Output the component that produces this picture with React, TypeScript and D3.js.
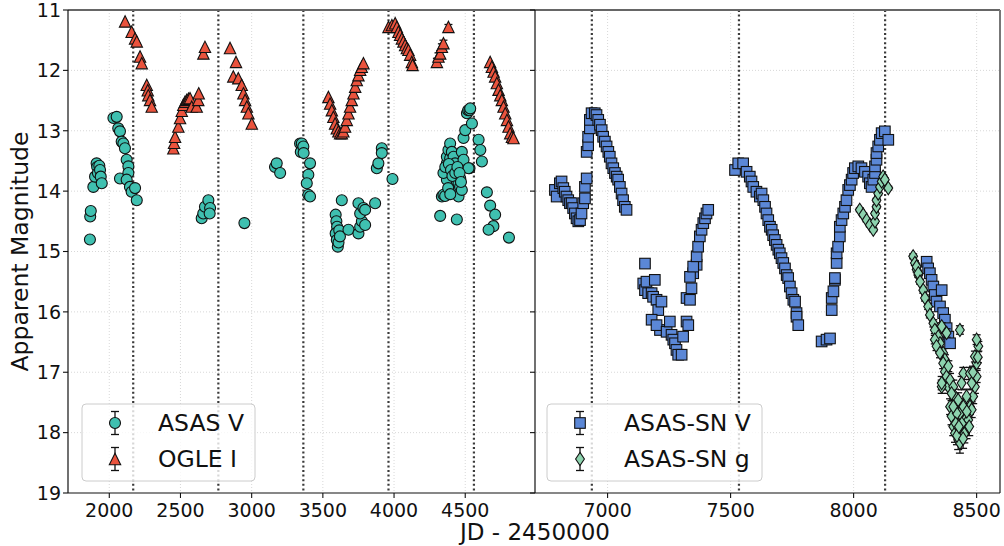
import React from "react";
import * as d3 from "d3";

// ---------- data: [JD - 2450000, magnitude, (optional error)] ----------
const asasV: number[][] = [
  [1864, 14.8], [1866, 14.42], [1870, 14.33], [1888, 13.93], [1900, 13.76], [1911, 13.54],
  [1915, 13.6], [1920, 13.7], [1930, 13.58], [1935, 13.65], [1940, 13.76], [1947, 13.87],
  [2029, 12.79], [2052, 12.77], [2063, 12.96], [2075, 13.01], [2075, 13.79], [2087, 13.18],
  [2099, 13.21], [2110, 13.29], [2122, 13.48], [2134, 13.59], [2134, 13.7], [2122, 13.81],
  [2145, 13.93], [2157, 14.01], [2181, 13.95], [2193, 14.15],
  [2649, 14.45], [2660, 14.37], [2672, 14.26], [2696, 14.15], [2708, 14.28], [2705, 14.37],
  [2949, 14.53], [3164, 13.6], [3176, 13.54], [3200, 13.7],
  [3340, 13.21], [3345, 13.35], [3352, 13.21], [3363, 13.26], [3365, 13.37], [3410, 13.54],
  [3398, 13.73], [3387, 13.87], [3398, 14.06], [3410, 14.09],
  [3633, 14.15], [3590, 14.39], [3595, 14.5], [3600, 14.59], [3590, 14.7], [3598, 14.81],
  [3605, 14.92], [3610, 14.85], [3615, 14.65], [3620, 14.75], [3680, 14.64],
  [3750, 14.7], [3762, 14.59], [3774, 14.5], [3762, 14.37], [3750, 14.2], [3785, 14.28],
  [3797, 14.56], [3797, 14.31], [3867, 14.2], [3879, 13.62], [3890, 13.54], [3914, 13.29],
  [3914, 13.37], [3989, 13.8],
  [4324, 14.41], [4336, 14.09], [4347, 14.06], [4359, 14.08], [4359, 13.68], [4371, 13.81],
  [4371, 13.54], [4347, 13.7], [4371, 13.43], [4382, 13.32], [4394, 13.21], [4394, 13.46],
  [4406, 13.35], [4418, 13.43], [4418, 13.98], [4429, 13.54], [4441, 14.47], [4441, 13.84],
  [4453, 13.87], [4453, 14.09], [4465, 13.79], [4464, 13.93], [4476, 13.35], [4476, 13.98],
  [4488, 13.48], [4488, 13.12], [4500, 12.99], [4512, 12.71], [4520, 12.66], [4530, 12.66],
  [4535, 12.63], [4547, 12.88], [4530, 13.62], [4523, 13.62], [4360, 13.6], [4385, 13.55],
  [4400, 13.65], [4410, 13.75], [4430, 13.7], [4445, 13.6], [4460, 13.7], [4470, 13.85],
  [4380, 13.95], [4395, 14.05],
  [4594, 13.15], [4606, 13.32], [4617, 13.51], [4652, 14.02], [4675, 14.24], [4710, 14.39],
  [4698, 14.58], [4664, 14.64], [4807, 14.77],
];

const ogleI: number[][] = [
  [2111, 11.19], [2157, 11.36], [2181, 11.47], [2193, 11.52], [2216, 11.77], [2228, 11.88],
  [2263, 12.24], [2270, 12.33], [2274, 12.41], [2286, 12.49], [2298, 12.6],
  [2450, 13.29], [2455, 13.2], [2462, 13.1], [2485, 12.93], [2497, 12.79], [2509, 12.67],
  [2520, 12.57], [2532, 12.52], [2544, 12.49], [2556, 12.47], [2567, 12.46], [2579, 12.6],
  [2614, 12.6], [2625, 12.49], [2628, 12.38], [2661, 11.72], [2672, 11.61],
  [2848, 11.63], [2871, 12.1], [2890, 11.86], [2906, 12.13], [2930, 12.24], [2942, 12.38],
  [2954, 12.49], [2966, 12.6], [2977, 12.71], [3001, 12.88],
  [3539, 12.44], [3551, 12.55], [3563, 12.66], [3574, 12.77], [3586, 12.88], [3598, 12.96],
  [3609, 13.01], [3621, 13.04], [3633, 13.04], [3644, 13.01], [3656, 12.93], [3668, 12.82],
  [3680, 12.71], [3691, 12.6], [3703, 12.49], [3715, 12.38], [3727, 12.27], [3738, 12.16],
  [3750, 12.08], [3762, 11.99], [3773, 11.94], [3785, 11.88],
  [3961, 11.28], [3985, 11.25], [4008, 11.22], [4020, 11.28], [4031, 11.36], [4043, 11.41],
  [4055, 11.47], [4066, 11.52], [4078, 11.58], [4090, 11.63], [4101, 11.66], [4113, 11.74],
  [4125, 11.86], [4130, 11.91],
  [4301, 11.86, 0.06], [4312, 11.77, 0.06], [4324, 11.72, 0.05], [4336, 11.61, 0.05],
  [4347, 11.55, 0.05], [4382, 11.28, 0.04],
  [4675, 11.86], [4687, 11.94], [4699, 12.02], [4710, 12.1], [4722, 12.21], [4734, 12.32],
  [4746, 12.41], [4757, 12.49], [4769, 12.6], [4781, 12.71], [4793, 12.82], [4804, 12.93],
  [4816, 13.04], [4828, 13.1], [4839, 13.12],
];

const asassnV: number[][] = [
  [6786, 13.98], [6793, 14.09], [6806, 13.87], [6813, 13.84], [6820, 13.95], [6826, 14.01],
  [6833, 14.09], [6840, 14.15], [6847, 14.2], [6854, 14.2], [6860, 14.28], [6867, 14.37],
  [6874, 14.45], [6881, 14.5], [6888, 14.48], [6894, 14.37], [6901, 14.2], [6908, 14.12],
  [6908, 13.93], [6915, 13.79], [6915, 13.35], [6921, 13.24], [6921, 13.1], [6928, 12.96],
  [6928, 12.82], [6935, 12.71], [6948, 12.71], [6955, 12.74], [6962, 12.82], [6969, 12.9],
  [6976, 12.99], [6982, 13.1], [6989, 13.18], [6996, 13.26], [7003, 13.35], [7009, 13.43],
  [7016, 13.54], [7023, 13.62], [7030, 13.7], [7037, 13.76], [7043, 13.81], [7050, 13.93],
  [7057, 14.04], [7063, 14.15], [7070, 14.26], [7077, 14.31],
  [7145, 15.53], [7152, 15.2], [7152, 15.64], [7158, 15.5], [7165, 15.69], [7179, 15.69],
  [7185, 15.75], [7192, 15.47], [7199, 15.8], [7206, 15.97], [7213, 16.3], [7219, 15.83],
  [7179, 16.13], [7199, 16.22], [7240, 16.33], [7253, 16.16], [7260, 16.38], [7267, 16.46],
  [7274, 16.52], [7280, 16.63], [7287, 16.71], [7301, 16.71], [7307, 16.41], [7321, 16.16],
  [7328, 16.22], [7321, 15.77], [7335, 15.8], [7341, 15.61], [7348, 15.36], [7362, 15.22],
  [7335, 15.42], [7348, 15.25], [7362, 15.08], [7368, 14.92], [7375, 14.75], [7382, 14.64],
  [7389, 14.53], [7396, 14.45], [7402, 14.37], [7409, 14.31],
  [7518, 13.65], [7531, 13.54], [7551, 13.54], [7565, 13.68], [7578, 13.76], [7585, 13.84],
  [7592, 13.93], [7605, 14.01], [7619, 14.09], [7626, 14.04], [7633, 14.15], [7640, 14.26],
  [7646, 14.37], [7653, 14.48], [7660, 14.59], [7667, 14.64], [7673, 14.73], [7680, 14.81],
  [7687, 14.89], [7694, 14.97], [7700, 15.03], [7707, 15.11], [7714, 15.19], [7721, 15.28],
  [7728, 15.39], [7734, 15.44], [7741, 15.58], [7748, 15.69], [7755, 15.8], [7762, 15.83],
  [7768, 16.02], [7768, 16.08], [7775, 16.22],
  [7870, 16.49, 0.05], [7890, 16.46, 0.05], [7904, 16.44], [7911, 15.97], [7911, 15.77],
  [7918, 15.66], [7924, 15.47], [7924, 15.44], [7931, 15.19], [7931, 15.03], [7937, 14.92],
  [7944, 14.75], [7944, 14.59], [7951, 14.48], [7958, 14.37], [7965, 14.26], [7971, 14.15],
  [7978, 13.98], [7985, 13.9], [7992, 13.81], [7998, 13.7], [8005, 13.62], [8019, 13.59],
  [8032, 13.62], [8046, 13.68], [8059, 13.76], [8066, 13.87], [8073, 13.93], [8080, 13.81],
  [8087, 13.7], [8087, 13.59], [8093, 13.48], [8093, 13.37], [8100, 13.26], [8107, 13.15],
  [8114, 13.04], [8127, 13.01], [8141, 13.15],
  [8297, 15.17], [8303, 15.28], [8310, 15.36], [8317, 15.47], [8324, 15.58], [8330, 15.72],
  [8337, 15.83], [8358, 15.64], [8351, 15.91], [8364, 16.02], [8371, 16.13], [8378, 16.27],
  [8385, 16.41], [8392, 16.52],
];

const asassnG: number[][] = [
  [8025, 14.31, 0.03], [8039, 14.39, 0.03], [8053, 14.48, 0.03], [8066, 14.56, 0.03],
  [8080, 14.64, 0.03], [8087, 14.5, 0.03], [8087, 14.37, 0.03], [8093, 14.26, 0.03],
  [8093, 14.15, 0.03], [8100, 14.04, 0.03], [8107, 13.93, 0.03], [8114, 13.84, 0.03],
  [8120, 13.76, 0.03], [8127, 13.81, 0.03], [8141, 13.95, 0.03],
  [8242, 15.08, 0.04], [8249, 15.19, 0.04], [8256, 15.3, 0.04], [8263, 15.39, 0.04],
  [8256, 15.25, 0.04], [8263, 15.36, 0.04], [8270, 15.5, 0.04], [8283, 15.64, 0.05],
  [8290, 15.77, 0.05], [8303, 15.91, 0.05], [8310, 16.05, 0.05], [8324, 16.19, 0.06],
  [8330, 16.3, 0.06], [8344, 16.41, 0.06], [8351, 16.52, 0.07], [8364, 16.68, 0.07],
  [8371, 16.79, 0.08], [8358, 16.24, 0.06], [8378, 16.35, 0.07], [8330, 16.46, 0.07],
  [8337, 16.57, 0.07], [8351, 16.68, 0.08], [8364, 16.85, 0.09], [8371, 16.99, 0.1],
  [8378, 17.07, 0.1], [8385, 17.24, 0.11], [8358, 17.24, 0.11], [8385, 16.9, 0.09],
  [8358, 17.18, 0.11], [8392, 17.13, 0.11], [8405, 17.24, 0.11], [8412, 17.4, 0.12],
  [8392, 17.57, 0.13], [8398, 17.73, 0.14], [8405, 17.9, 0.15], [8412, 18.01, 0.15],
  [8425, 18.12, 0.16], [8432, 18.17, 0.17], [8453, 17.79, 0.14], [8466, 17.79, 0.14],
  [8459, 17.95, 0.15], [8473, 17.57, 0.13], [8486, 17.4, 0.12], [8493, 17.24, 0.11],
  [8500, 17.07, 0.1], [8500, 16.85, 0.09], [8493, 16.74, 0.09], [8507, 16.57, 0.08],
  [8500, 16.46, 0.08], [8446, 17.02, 0.1], [8439, 17.18, 0.11], [8473, 17.02, 0.1],
  [8480, 17.18, 0.11], [8425, 17.46, 0.12], [8432, 17.68, 0.13], [8446, 17.57, 0.13],
  [8419, 17.68, 0.13], [8405, 17.57, 0.13], [8480, 17.62, 0.13], [8459, 17.4, 0.12],
  [8432, 16.3, 0.07], [8420, 18.05, 0.15], [8440, 17.85, 0.14], [8450, 18.02, 0.15],
  [8470, 17.9, 0.15], [8485, 17.0, 0.1], [8505, 16.75, 0.09], [8415, 17.85, 0.14],
  [8428, 17.9, 0.15], [8445, 18.1, 0.16], [8460, 17.65, 0.13], [8398, 17.35, 0.12],
];

const yTicks = [11, 12, 13, 14, 15, 16, 17, 18, 19];
const leftXTicks = [2000, 2500, 3000, 3500, 4000, 4500];
const rightXTicks = [7000, 7500, 8000, 8500];
const leftRefLines = [2168, 2766, 3363, 3961, 4561];
const rightRefLines = [6936, 7534, 8128];
const leftDomain = [1710, 4990];
const rightDomain = [6705, 8595];
const legendLeft = ["ASAS V", "OGLE I"];
const legendRight = ["ASAS-SN V", "ASAS-SN g"];

// ---------- styles ----------
const W = 1004, H = 546;
const TOP = 10, BOTTOM = 493;
const L0 = 68, MID = 535, R1 = 1000;
const FONT = "DejaVu Sans, sans-serif";
const C_TEAL = "#3fc0b0";
const C_RED = "#ea533d";
const C_BLUE = "#5b87d6";
const C_GREEN = "#8dd3ae";

const y = d3.scaleLinear().domain([11, 19]).range([TOP, BOTTOM]);
const xL = d3.scaleLinear().domain(leftDomain).range([L0, MID]);
const xR = d3.scaleLinear().domain(rightDomain).range([MID, R1]);

type Shape = "o" | "^" | "s" | "d";

function Marker({ shape, cx, cy, fill }: { shape: Shape; cx: number; cy: number; fill: string }) {
  const sw = 1.1;
  const st = "#111";
  if (shape === "o") return <circle cx={cx} cy={cy} r={5.5} fill={fill} stroke={st} strokeWidth={sw} />;
  if (shape === "^") {
    const h = 5.7;
    return <path d={`M${cx},${cy - h}L${cx + h},${cy + h}L${cx - h},${cy + h}Z`} fill={fill} stroke={st} strokeWidth={sw} />;
  }
  if (shape === "s") {
    const h = 5.3;
    return <rect x={cx - h} y={cy - h} width={2 * h} height={2 * h} fill={fill} stroke={st} strokeWidth={sw} />;
  }
  const hw = 4.4, hh = 6.6;
  return <path d={`M${cx},${cy - hh}L${cx + hw},${cy}L${cx},${cy + hh}L${cx - hw},${cy}Z`} fill={fill} stroke={st} strokeWidth={sw} />;
}

function ErrBar({ cx, y0, y1 }: { cx: number; y0: number; y1: number }) {
  return (
    <g stroke="#111" strokeWidth={1.3}>
      <line x1={cx} x2={cx} y1={y0} y2={y1} />
      <line x1={cx - 4} x2={cx + 4} y1={y0} y2={y0} />
      <line x1={cx - 4} x2={cx + 4} y1={y1} y2={y1} />
    </g>
  );
}

function Series({ data, x, shape, fill }: { data: number[][]; x: d3.ScaleLinear<number, number>; shape: Shape; fill: string }) {
  return (
    <g>
      {data.filter((d) => d[2]).map((d, i) => (
        <ErrBar key={"e" + i} cx={x(d[0])} y0={y(d[1] - d[2])} y1={y(d[1] + d[2])} />
      ))}
      {data.map((d, i) => (
        <Marker key={i} shape={shape} cx={x(d[0])} cy={y(d[1])} fill={fill} />
      ))}
    </g>
  );
}

function Legend({ x0, w, mx, tx, labels, shapes, fills }: { x0: number; w: number; mx: number; tx: number; labels: string[]; shapes: Shape[]; fills: string[] }) {
  const rows = [423, 459];
  return (
    <g>
      <rect x={x0} y={404} width={w} height={77} rx={4} fill="white" fillOpacity={0.8} stroke="#cccccc" strokeWidth={1} />
      {labels.map((lab, i) => (
        <g key={lab}>
          <ErrBar cx={mx} y0={rows[i] - 11.5} y1={rows[i] + 11.5} />
          <Marker shape={shapes[i]} cx={mx} cy={rows[i]} fill={fills[i]} />
          <text x={tx} y={rows[i] + 8.3} fontSize={23.5} fontFamily={FONT} fill="#111">{lab}</text>
        </g>
      ))}
    </g>
  );
}

export default function App() {
  return (
    <div style={{ position: "fixed", left: 0, top: 0 }}>
      <svg width={W} height={H} style={{ display: "block", background: "white" }}>
        <defs>
          <clipPath id="clipL"><rect x={L0} y={TOP} width={MID - L0} height={BOTTOM - TOP} /></clipPath>
          <clipPath id="clipR"><rect x={MID} y={TOP} width={R1 - MID} height={BOTTOM - TOP} /></clipPath>
        </defs>

        {/* grids */}
        <g stroke="#d4d4d4" strokeWidth={0.9} strokeDasharray="1,2">
          {yTicks.slice(1, -1).map((t) => (
            <line key={"gy" + t} x1={L0} x2={R1} y1={y(t)} y2={y(t)} />
          ))}
          {leftXTicks.map((t) => (
            <line key={"gxl" + t} x1={xL(t)} x2={xL(t)} y1={TOP} y2={BOTTOM} />
          ))}
          {rightXTicks.map((t) => (
            <line key={"gxr" + t} x1={xR(t)} x2={xR(t)} y1={TOP} y2={BOTTOM} />
          ))}
        </g>

        {/* reference lines */}
        <g stroke="#3a3a3a" strokeWidth={2.2} strokeDasharray="2,2.6">
          {leftRefLines.map((t) => (
            <line key={"rl" + t} x1={xL(t)} x2={xL(t)} y1={TOP} y2={BOTTOM} />
          ))}
          {rightRefLines.map((t) => (
            <line key={"rr" + t} x1={xR(t)} x2={xR(t)} y1={TOP} y2={BOTTOM} />
          ))}
        </g>

        <g clipPath="url(#clipL)">
          <Series data={asasV} x={xL} shape="o" fill={C_TEAL} />
          <Series data={ogleI} x={xL} shape="^" fill={C_RED} />
        </g>
        <g clipPath="url(#clipR)">
          <Series data={asassnV} x={xR} shape="s" fill={C_BLUE} />
          <Series data={asassnG} x={xR} shape="d" fill={C_GREEN} />
        </g>

        {/* spines */}
        <line x1={L0} x2={R1} y1={TOP} y2={TOP} stroke="#666" strokeWidth={2} />
        <line x1={R1} x2={R1} y1={TOP} y2={BOTTOM} stroke="#777" strokeWidth={2} />
        <line x1={L0} x2={L0} y1={TOP} y2={BOTTOM} stroke="#111" strokeWidth={1.2} />
        <line x1={MID} x2={MID} y1={TOP} y2={BOTTOM} stroke="#111" strokeWidth={1.2} />
        <line x1={L0} x2={R1} y1={BOTTOM} y2={BOTTOM} stroke="#111" strokeWidth={1.2} />

        {/* ticks */}
        <g stroke="#111" strokeWidth={1.1}>
          {yTicks.map((t) => (
            <g key={"yt" + t}>
              <line x1={L0 - 5} x2={L0} y1={y(t)} y2={y(t)} />
              <line x1={MID - 5} x2={MID} y1={y(t)} y2={y(t)} />
            </g>
          ))}
          {leftXTicks.map((t) => (
            <line key={"xtl" + t} x1={xL(t)} x2={xL(t)} y1={BOTTOM} y2={BOTTOM + 5} />
          ))}
          {rightXTicks.map((t) => (
            <line key={"xtr" + t} x1={xR(t)} x2={xR(t)} y1={BOTTOM} y2={BOTTOM + 5} />
          ))}
        </g>
        <g fontFamily={FONT} fontSize={19} fill="#111">
          {yTicks.map((t) => (
            <text key={"yl" + t} x={L0 - 7} y={y(t)} dy="0.36em" textAnchor="end">{t}</text>
          ))}
          {leftXTicks.map((t) => (
            <text key={"xll" + t} x={xL(t)} y={516.5} textAnchor="middle">{t}</text>
          ))}
          {rightXTicks.map((t) => (
            <text key={"xlr" + t} x={xR(t)} y={516.5} textAnchor="middle">{t}</text>
          ))}
        </g>

        <text x={535} y={540} textAnchor="middle" fontFamily={FONT} fontSize={23} fill="#111">JD - 2450000</text>
        <text transform={`translate(28,${(TOP + BOTTOM) / 2}) rotate(-90)`} textAnchor="middle" fontFamily={FONT} fontSize={23.5} fill="#111">Apparent Magnitude</text>

        <Legend x0={82} w={173} mx={115} tx={158} labels={legendLeft} shapes={["o", "^"]} fills={[C_TEAL, C_RED]} />
        <Legend x0={547} w={215} mx={580} tx={624} labels={legendRight} shapes={["s", "d"]} fills={[C_BLUE, C_GREEN]} />
      </svg>
    </div>
  );
}
